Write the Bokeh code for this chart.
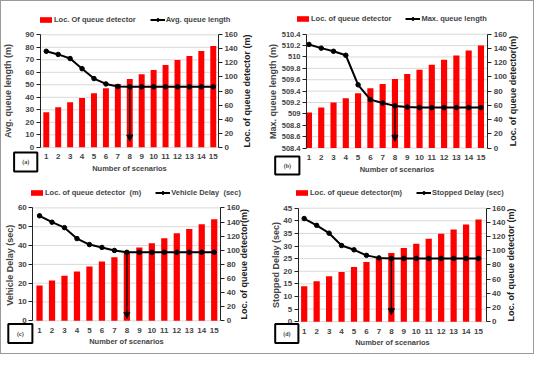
import math
from bokeh.plotting import figure
from bokeh.models import (Range1d, LinearAxis, FixedTicker, Legend, LegendItem,
                          Arrow, NormalHead, Label, NumeralTickFormatter, BoxAnnotation)
from bokeh.layouts import gridplot, column
from bokeh.embed import file_html
from bokeh.resources import INLINE

# ---------------- data ----------------
scenarios = list(range(1, 16))
detector_loc = [50, 57, 64, 70, 77, 84, 90, 97, 104, 110, 117, 124, 130, 137, 144]

avg_queue = [76.8, 74.3, 71.0, 62.9, 55.0, 50.7, 48.7, 48.4, 48.4, 48.4, 48.4, 48.4, 48.4, 48.4, 48.4]
max_queue = [510.22, 510.155, 510.10, 510.03, 509.51, 509.25, 509.19, 509.14, 509.12,
             509.11, 509.11, 509.11, 509.11, 509.11, 509.11]
veh_delay = [55.8, 52.4, 49.5, 43.7, 40.5, 39.0, 37.4, 36.4, 36.4, 36.4, 36.4, 36.4, 36.4, 36.4, 36.4]
stop_delay = [40.9, 38.2, 35.1, 30.2, 28.5, 26.3, 25.3, 25.1, 25.1, 25.1, 25.1, 25.1, 25.1, 25.1, 25.1]

arrow_scenario = 8
arrow_end = {"a": 5.0, "b": 508.52, "c": 1.3, "d": 2.8}

ticks_a = [0, 10, 20, 30, 40, 50, 60, 70, 80, 90]
ticks_b = [508.4, 508.6, 508.8, 509.0, 509.2, 509.4, 509.6, 509.8, 510.0, 510.2, 510.4]
ticks_c = [0, 10, 20, 30, 40, 50, 60]
ticks_d = [0, 5, 10, 15, 20, 25, 30, 35, 40, 45]
ticks_right = [0, 20, 40, 60, 80, 100, 120, 140, 160]

FONT = "Liberation Sans"
W, H = 266, 176


def span_range(v0, v1, p0, p1, total):
    """range so that value v0 sits at pixel p0 and v1 at pixel p1 of a frame of `total` px"""
    upp = (v1 - v0) / (p1 - p0)
    return Range1d(v0 - p0 * upp, v1 + (total - p1) * upp)


def style_axis(ax, standoff, tick_size="8px"):
    ax.axis_line_color = "#222222"
    ax.major_tick_line_color = "#222222"
    ax.major_tick_out = 4
    ax.major_tick_in = 0
    ax.minor_tick_line_color = None
    ax.major_label_text_font = FONT
    ax.major_label_text_font_style = "bold"
    ax.major_label_text_font_size = tick_size
    ax.major_label_standoff = 2
    ax.axis_label_text_font = FONT
    ax.axis_label_text_font_style = "bold"
    ax.axis_label_text_font_size = "9px"
    ax.axis_label_standoff = standoff


def panel(tag, values, yticks, left_label, right_label, bar_legend, line_legend,
          xr, frame_px, left_standoff, left_tick_size, right_label_x, leg_xy, box):
    L, R, T, B = frame_px
    p = figure(width=W, height=H, output_backend="svg", toolbar_location=None,
               x_axis_type=None, y_axis_type=None,
               x_range=span_range(xr[0], xr[1], L, R, W),
               y_range=span_range(yticks[0], yticks[-1], H - B, H - T, H),
               min_border=0, outline_line_color=None,
               background_fill_color="white", border_fill_color="white")
    p.title.visible = False
    p.extra_y_ranges = {"loc": span_range(ticks_right[0], ticks_right[-1], H - B, H - T, H)}
    p.xgrid.grid_line_color = None
    p.ygrid.grid_line_color = None

    # horizontal grid lines at the left-axis ticks, between the two axes
    p.segment(x0=[xr[0]] * len(yticks), x1=[xr[1]] * len(yticks), y0=yticks, y1=yticks,
              line_color="#d9d9d9", line_width=1)

    bars = p.vbar(x=scenarios, top=detector_loc, width=0.5, y_range_name="loc",
                  fill_color="#FF0000", line_color=None)
    ln = p.line(scenarios, values, line_color="black", line_width=2)
    sc = p.scatter(scenarios, values, size=4.5, fill_color="black", line_color="black")

    i = scenarios.index(arrow_scenario)
    p.add_layout(Arrow(end=NormalHead(size=6, fill_color="black", line_color="black"),
                       x_start=scenarios[i], y_start=values[i],
                       x_end=scenarios[i], y_end=arrow_end[tag],
                       line_color="black", line_width=1.3))

    # left axis
    ya = LinearAxis(ticker=FixedTicker(ticks=yticks), axis_label=left_label,
                    fixed_location=xr[0], bounds=(yticks[0], yticks[-1]))
    if tag == "b":
        ya.formatter = NumeralTickFormatter(format="0.[0]")
    style_axis(ya, left_standoff, left_tick_size)
    p.add_layout(ya, "left")

    # right axis (its title is set as a rotated label reading upwards)
    ra = LinearAxis(y_range_name="loc", ticker=FixedTicker(ticks=ticks_right),
                    fixed_location=xr[1], bounds=(ticks_right[0], ticks_right[-1]))
    style_axis(ra, 3)
    p.add_layout(ra, "right")
    p.add_layout(Label(x=right_label_x, y=H - (T + B) / 2, x_units="screen", y_units="screen",
                       text=right_label, angle=math.pi / 2, text_align="center",
                       text_baseline="middle", text_font=FONT, text_font_style="bold",
                       text_font_size="9px", text_color="#222222"))

    # bottom axis
    xa = LinearAxis(ticker=FixedTicker(ticks=scenarios), axis_label="Number of scenarios",
                    fixed_location=yticks[0], bounds=(xr[0], xr[1]))
    xa.axis_line_color = None
    xa.major_tick_line_color = None
    xa.minor_tick_line_color = None
    xa.major_label_text_font = FONT
    xa.major_label_text_font_style = "bold"
    xa.major_label_text_font_size = "8px"
    xa.major_label_standoff = 1
    xa.axis_label_text_font = FONT
    xa.axis_label_text_font_style = "bold"
    xa.axis_label_text_font_size = "7.5px"
    xa.axis_label_standoff = 1
    p.add_layout(xa, "below")

    leg = Legend(items=[LegendItem(label=bar_legend, renderers=[bars]),
                        LegendItem(label=line_legend, renderers=[ln, sc])],
                 orientation="horizontal", location=leg_xy,
                 label_text_font=FONT, label_text_font_style="bold",
                 label_text_font_size="7.5px", glyph_width=15, glyph_height=7,
                 label_standoff=1, spacing=14, padding=0, margin=0,
                 border_line_color=None, background_fill_alpha=0)
    p.add_layout(leg, "center")

    bl, br, bb, bt = box
    p.add_layout(BoxAnnotation(left=bl, right=br, bottom=bb, top=bt,
                               left_units="screen", right_units="screen",
                               bottom_units="screen", top_units="screen",
                               fill_color="white", fill_alpha=1,
                               line_color="black", line_alpha=1, line_width=2))
    p.add_layout(Label(x=(bl + br) / 2, y=(bb + bt) / 2, x_units="screen", y_units="screen",
                       text="(" + tag + ")", text_font="Liberation Serif",
                       text_font_size="6px", text_font_style="bold",
                       text_align="center", text_baseline="middle"))
    return p


pa = panel("a", avg_queue, ticks_a, "Avg. queue length (m)", "Loc. of queue detector (m)",
           "Loc. Of queue detector", "Avg. queue length", (0.49, 15.43),
           (38.7, 216.9, 33.3, 145.8), 10, "8px", 245.6, (37, 153), (12.6, 35.8, 6, 25))
pb = panel("b", max_queue, ticks_b, "Max. queue length (m)", "Loc. of queue detector(m)",
           "Loc. of queue detector", "Max. queue length", (0.8, 15.55),
           (39.0, 220.2, 32.7, 146.5), 1, "7.5px", 245.6, (28, 154), (7.7, 31.9, 3, 21))
pc = panel("c", veh_delay, ticks_c, "Vehicle Delay  (sec)", "Loc. of queue detector(m)",
           "Loc. of queue detector  (m)", "Vehicle Delay  (sec)", (0.46, 15.52),
           (31.3, 219.2, 30.4, 143.3), 0, "8px", 242.4, (28, 156), (6.8, 30.9, 10.5, 29.5))
pd = panel("d", stop_delay, ticks_d, "Stopped Delay (sec)", "Loc. of queue detector (m)",
           "Loc. of queue detector(m)", "Stopped Delay (sec)", (0.51, 15.6),
           (30.6, 218.5, 30.7, 144.2), 0, "8px", 243.0, (27, 156), (7.7, 30.9, 10.5, 29.5))

grid = gridplot([[pa, pb], [pc, pd]], toolbar_location=None)
layout = column(grid, styles={"border": "1px solid #9a9a9a"})

open("out.html", "w").write(file_html(layout, INLINE))
